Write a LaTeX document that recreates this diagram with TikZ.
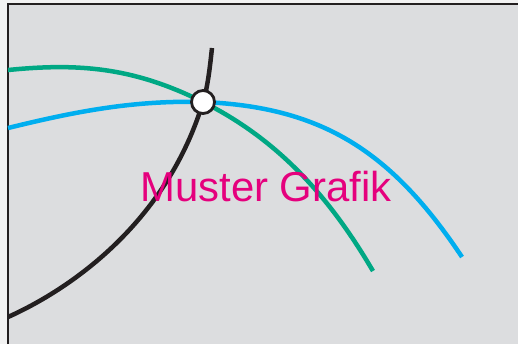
\documentclass[tikz,border=0pt]{standalone}
\usepackage{fontspec}
\setmainfont{Liberation Sans}
\definecolor{bggray}{HTML}{DCDDDF}
\definecolor{curvegreen}{HTML}{00A884}
\definecolor{curveblue}{HTML}{00AEEF}
\definecolor{labelpink}{HTML}{E5007D}
\definecolor{inkblack}{HTML}{231F20}
\begin{document}
\begin{tikzpicture}[x=0.01cm, y=-0.01cm, curve/.style={line width=0.045cm}]

\useasboundingbox (0,0) rectangle (518,344);
\fill[gray!10] (0,0) rectangle (518,344);
\fill[bggray] (8,4) rectangle (518,344);
\draw[line width=0.025cm, inkblack] (8,344) -- (8,4) -- (518,4);

\coordinate (k) at (203,102);

\draw[curve, curvegreen] (8,70) .. controls (78,63) and (133,67) .. (k)
  .. controls (283,142) and (333,203) .. (373,271);
\draw[curve, curveblue] (8,128) .. controls (73,112) and (133,100) .. (k)
  .. controls (323,107) and (392,152) .. (462,257);
\draw[curve, inkblack] (8,317) .. controls (78,285.5) and (168,217.5) .. (k)
  .. controls (208,86) and (210,66) .. (212,48);

\node[circle, draw=inkblack, fill=white, line width=0.028cm, minimum size=0.23cm, inner sep=0] (knot) at (k) {};

\node[text=labelpink, anchor=base, inner sep=0, font=\fontsize{11.9}{14}\selectfont] (label) at (266,201) {Muster Grafik};

\end{tikzpicture}
\end{document}
